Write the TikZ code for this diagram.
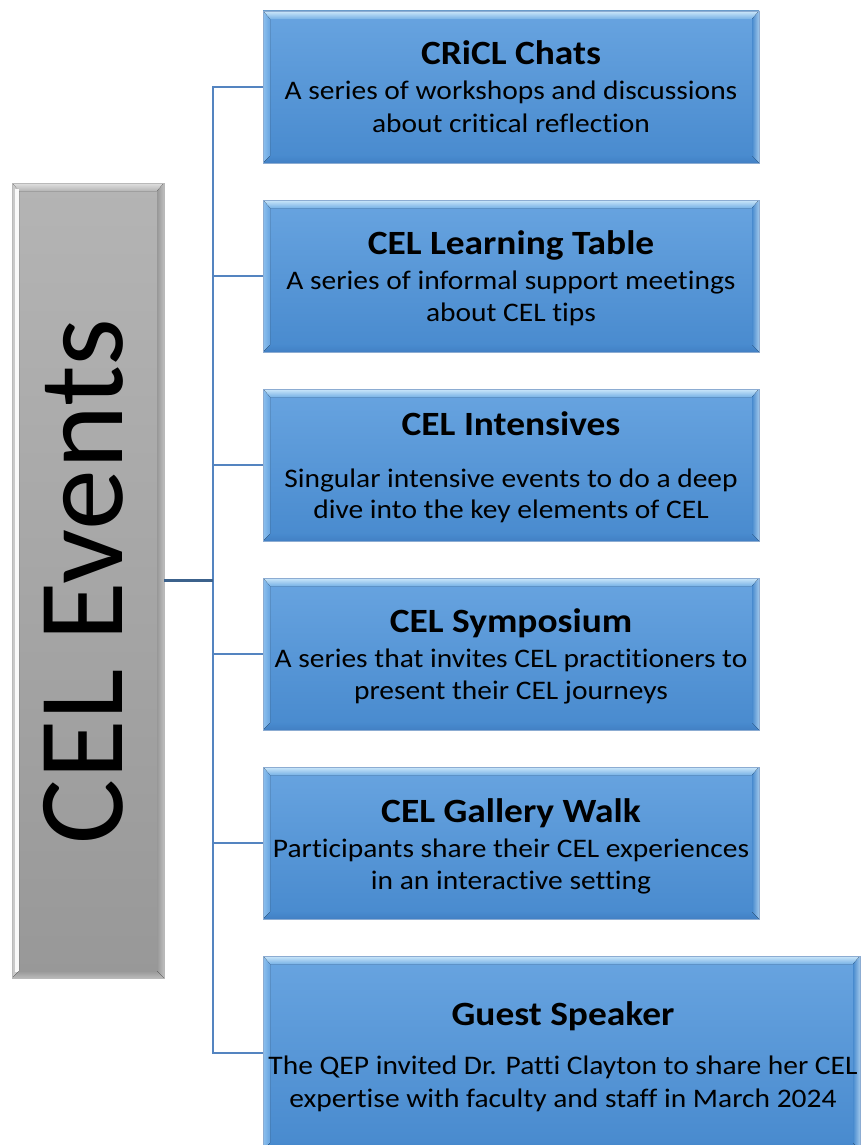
\documentclass[tikz,border=0pt]{standalone}
\usepackage{fontspec}
\setmainfont{Carlito}[Ligatures=NoCommon]
\newfontfamily\boxfont{Carlito}[FakeStretch=1.1,Ligatures=NoCommon]
\definecolor{bxtop}{RGB}{104,164,224}
\definecolor{bxbot}{RGB}{72,138,206}
\definecolor{bxline}{RGB}{140,172,210}
\definecolor{gytop}{RGB}{180,180,180}
\definecolor{gybot}{RGB}{152,152,152}
\definecolor{conncol}{RGB}{84,132,192}
\definecolor{conndark}{RGB}{60,98,140}
\tikzset{
  bx/.style={draw=bxline, line width=0.8pt, top color=bxtop, bottom color=bxbot,
    anchor=north west, inner sep=0pt, outer sep=0pt},
  gy/.style={draw=gray!55, line width=0.8pt, top color=gytop, bottom color=gybot,
    anchor=north west, inner sep=0pt, outer sep=0pt},
  conn/.style={draw=conncol, line width=2.2pt},
  conndk/.style={draw=conndark, line width=2.4pt},
  ttl/.style={anchor=base, inner sep=0pt, font={\boxfont\bfseries\fontsize{34}{40}\selectfont}},
  bdy/.style={anchor=base, inner sep=0pt, font={\boxfont\fontsize{26.8}{31}\selectfont}},
}
\newcommand\evbox[5]{%
  \node[bx, minimum width=#4pt, minimum height=#5pt] (#1) at (#2,#3) {};
  \fill[top color={rgb,255:red,205;green,232;blue,250}, bottom color={rgb,255:red,120;green,178;blue,230}]
    (#1.north west) -- (#1.north east) -- ([shift={(-7pt,-8pt)}]#1.north east)
    -- ([shift={(7pt,-8pt)}]#1.north west) -- cycle;
  \fill[left color={rgb,255:red,140;green,192;blue,238}, right color=bxtop]
    (#1.north west) -- ([shift={(7pt,-8pt)}]#1.north west)
    -- ([shift={(7pt,7pt)}]#1.south west) -- (#1.south west) -- cycle;
  \fill[left color=bxbot, right color={rgb,255:red,160;green,200;blue,235}]
    (#1.north east) -- ([shift={(-7pt,-8pt)}]#1.north east)
    -- ([shift={(-7pt,7pt)}]#1.south east) -- (#1.south east) -- cycle;
  \fill[top color=bxbot, bottom color={rgb,255:red,66;green,128;blue,196}]
    (#1.south west) -- ([shift={(7pt,7pt)}]#1.south west)
    -- ([shift={(-7pt,7pt)}]#1.south east) -- (#1.south east) -- cycle;
  \draw[bxline, line width=0.8pt] (#1.north west) rectangle (#1.south east);
}
\newcommand\evtext[8]{%
  \node[ttl] (#1t) at (#2,#3) {#6};
  \node[bdy] (#1a) at (#2,#4) {#7};
  \node[bdy] (#1b) at (#2,#5) {#8};
}
\begin{document}
\begin{tikzpicture}[x=1pt,y=-1pt]
\path[use as bounding box] (0,0) rectangle (861,1145);
\clip (0,0) rectangle (861,1145);
% left grey box
\node[gy, minimum width=152pt, minimum height=795pt] (cel) at (12,183) {};
\fill[top color={rgb,255:red,225;green,225;blue,225}, bottom color=gytop]
  (cel.north west) -- (cel.north east) -- ([shift={(-7pt,-8pt)}]cel.north east)
  -- ([shift={(7pt,-8pt)}]cel.north west) -- cycle;
\fill[left color={rgb,255:red,200;green,200;blue,200}, right color=gray!40]
  (cel.north west) -- ([shift={(7pt,-8pt)}]cel.north west)
  -- ([shift={(7pt,7pt)}]cel.south west) -- (cel.south west) -- cycle;
\fill[white!95!gray] ([shift={(3pt,-6pt)}]cel.north west) rectangle ([shift={(7pt,6pt)}]cel.south west);
\fill[left color=gybot, right color={rgb,255:red,190;green,190;blue,190}]
  (cel.north east) -- ([shift={(-7pt,-8pt)}]cel.north east)
  -- ([shift={(-7pt,7pt)}]cel.south east) -- (cel.south east) -- cycle;
\fill[top color=gybot, bottom color={rgb,255:red,185;green,185;blue,185}]
  (cel.south west) -- ([shift={(7pt,7pt)}]cel.south west)
  -- ([shift={(-7pt,7pt)}]cel.south east) -- (cel.south east) -- cycle;
\draw[gray!55, line width=0.8pt] (cel.north west) rectangle (cel.south east);
\node[rotate=90, anchor=base, inner sep=0pt, font={\fontsize{122}{130}\selectfont}] (celtxt) at (122,581.5) {CEL Events};

% event boxes
\evbox{b1}{263}{11}{496}{152}
\evbox{b2}{263}{200}{496}{152}
\evbox{b3}{263}{389}{496}{152}
\evbox{b4}{263}{578}{496}{152}
\evbox{b5}{263}{767}{496}{152}
\evbox{b6}{263}{956}{597}{194}

% connectors
\coordinate (j) at (213,580.5);
\draw[conn] (j) |- (b1.west);
\draw[conn] (j) |- (b2.west);
\draw[conn] (j) |- (b3.west);
\draw[conn] (j) |- (b4.west);
\draw[conn] (j) |- (b5.west);
\draw[conn] (j) |- (b6.west);
\draw[conndk] (cel.east) -- (j);

% texts
\evtext{e1}{511}{65}{100}{132}{CRiCL Chats}{A series of workshops and discussions}{about critical reflection}
\evtext{e2}{511}{254}{289}{321}{CEL Learning Table}{A series of informal support meetings}{about CEL tips}
\evtext{e3}{511}{435}{487}{518}{CEL Intensives}{Singular intensive events to do a deep}{dive into the key elements of CEL}
\evtext{e4}{511}{632}{667}{699}{CEL Symposium}{A series that invites CEL practitioners to}{present their CEL journeys}
\evtext{e5}{511}{822}{857}{889}{CEL Gallery Walk}{Participants share their CEL experiences}{in an interactive setting}
\evtext{e6}{563}{1025}{1074}{1107}{Guest Speaker}{The QEP invited Dr. Patti Clayton to share her CEL}{expertise with faculty and staff in March 2024}
\end{tikzpicture}
\end{document}
